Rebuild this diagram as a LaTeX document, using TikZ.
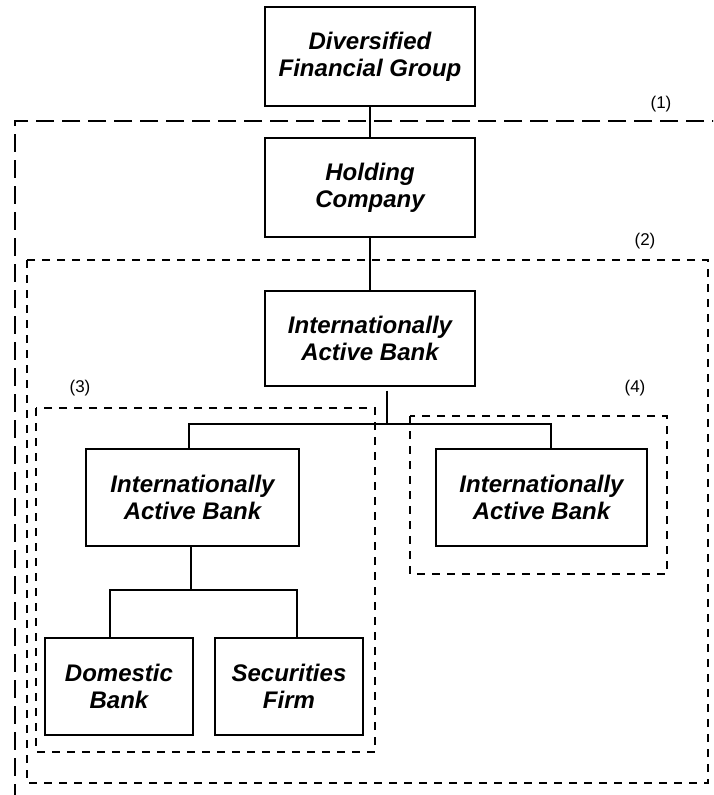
\documentclass[tikz,border=0pt]{standalone}
\usepackage{fontspec}
\setmainfont{Liberation Sans}
\begin{document}
\begin{tikzpicture}[x=1pt,y=-1pt,
  box/.style={draw,line width=1.3pt,inner sep=0pt,align=center,
    font=\fontsize{24}{27}\selectfont\bfseries\itshape},
  conn/.style={line width=1.3pt},
  grpone/.style={line width=1.3pt,dash pattern=on 18pt off 8pt},
  grp/.style={line width=1.2pt,dash pattern=on 8pt off 7pt},
  lbl/.style={font=\fontsize{17}{20}\selectfont,inner sep=0pt}]
\clip (0,0) rectangle (713,795);
\fill[white] (0,0) rectangle (713,795);

% boxes
\node[box,minimum width=210pt,minimum height=99pt] (dfg) at (370,56.5) {Diversified\\Financial Group};
\node[box,minimum width=210pt,minimum height=99pt] (hc) at (370,187.5) {Holding\\Company};
\node[box,minimum width=210pt,minimum height=95pt] (iab) at (370,338.5) {Internationally\\Active Bank};
\node[box,minimum width=213pt,minimum height=97pt] (iabl) at (192.5,497.5) {Internationally\\Active Bank};
\node[box,minimum width=211pt,minimum height=97pt] (iabr) at (541.5,497.5) {Internationally\\Active Bank};
\node[box,minimum width=148pt,minimum height=97pt] (dom) at (119,686.5) {Domestic\\Bank};
\node[box,minimum width=148pt,minimum height=97pt] (sec) at (289,686.5) {Securities\\Firm};

% connector junctions
\coordinate (j1) at (387,424);
\coordinate (j1l) at (189,424);
\coordinate (j1r) at (551,424);
\coordinate (j2) at (191,590);
\coordinate (j2l) at (110,590);
\coordinate (j2r) at (297,590);

\draw[conn] (dfg) -- (hc);
\draw[conn] (hc) -- (iab);
\draw[conn] ([yshift=-4pt]iab.south -| j1) -- (j1);
\draw[conn] (iabl.north -| j1l) -- (j1l) -- (j1r) -- (iabr.north -| j1r);
\draw[conn] (iabl.south -| j2) -- (j2);
\draw[conn] (dom.north -| j2l) -- (j2l) -- (j2r) -- (sec.north -| j2r);

% grouping boxes
\draw[grpone] (730,121) -- (15,121) -- (15,820);
\draw[grp] (27,260) rectangle (708,783);
\draw[grp] (36,408) rectangle (375,752);
\draw[grp] (410,416) rectangle (667,574);

% labels
\node[lbl] (l1) at (661,104) {(1)};
\node[lbl] (l2) at (645,241) {(2)};
\node[lbl] (l3) at (80,388) {(3)};
\node[lbl] (l4) at (635,388) {(4)};
\end{tikzpicture}
\end{document}
